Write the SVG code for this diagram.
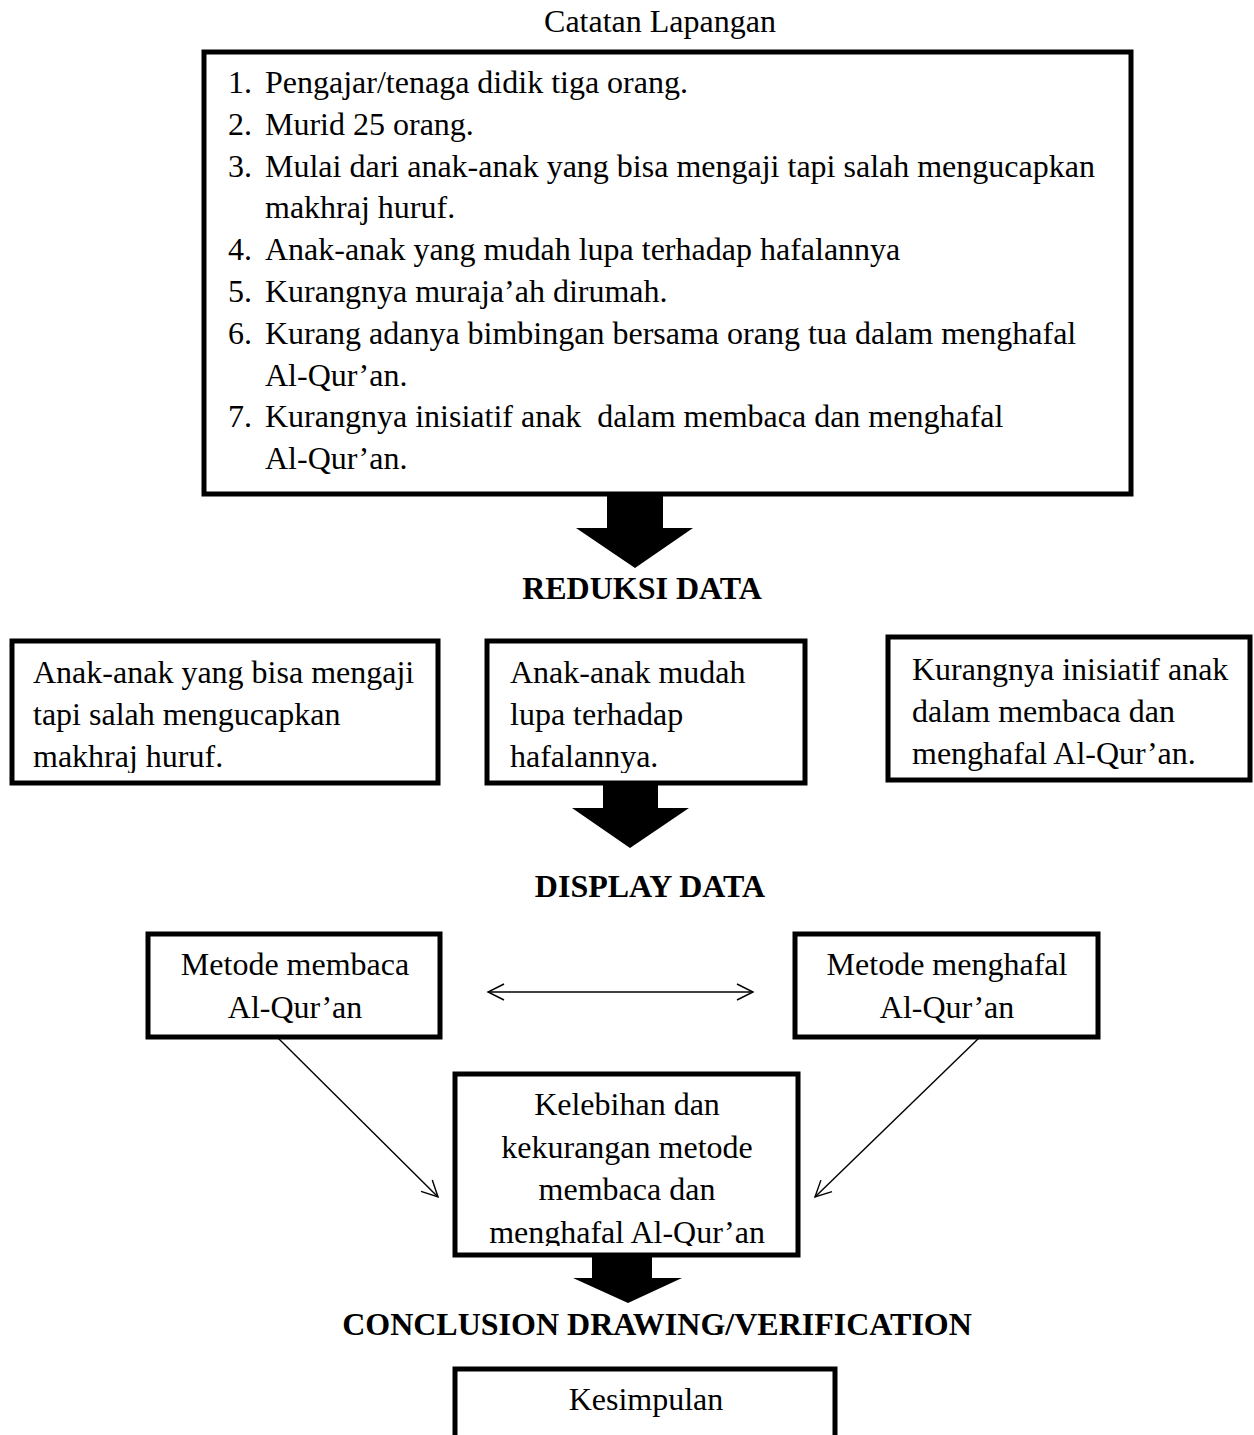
<svg xmlns="http://www.w3.org/2000/svg" width="1254" height="1435" viewBox="0 0 1254 1435">
<style>
text{font-family:"Liberation Serif","Times New Roman",serif;font-size:32px;fill:#000}
.b{font-weight:bold}
.c{text-anchor:middle}
.box{fill:#fff;stroke:#000;stroke-width:5}
.thin{fill:none;stroke:#000;stroke-width:1.4}
.big{fill:#000}
</style>
<defs>
<marker id="open" viewBox="0 0 20 20" refX="18" refY="10" markerWidth="20" markerHeight="20" markerUnits="userSpaceOnUse" orient="auto-start-reverse">
<path d="M2,2 L18,10 L2,18" fill="none" stroke="#000" stroke-width="1.4"/>
</marker>
<clipPath id="cA"><rect x="14" y="643" width="422" height="130"/></clipPath>
<clipPath id="cB"><rect x="489" y="643" width="314" height="130"/></clipPath>
<clipPath id="cC"><rect x="890" y="639" width="358" height="134"/></clipPath>
<clipPath id="cF"><rect x="457" y="1076" width="339" height="170"/></clipPath>
</defs>

<text x="660" y="32" class="c">Catatan Lapangan</text>

<g id="node-catatan">
<rect class="box" x="204" y="52" width="927" height="442"/>
<text x="228" y="93">1.</text><text x="265" y="93">Pengajar/tenaga didik tiga orang.</text>
<text x="228" y="135">2.</text><text x="265" y="135">Murid 25 orang.</text>
<text x="228" y="177">3.</text><text x="265" y="177">Mulai dari anak-anak yang bisa mengaji tapi salah mengucapkan</text>
<text x="265" y="218">makhraj huruf.</text>
<text x="228" y="260">4.</text><text x="265" y="260">Anak-anak yang mudah lupa terhadap hafalannya</text>
<text x="228" y="302">5.</text><text x="265" y="302">Kurangnya muraja’ah dirumah.</text>
<text x="228" y="344">6.</text><text x="265" y="344">Kurang adanya bimbingan bersama orang tua dalam menghafal</text>
<text x="265" y="386">Al-Qur’an.</text>
<text x="228" y="427">7.</text><text x="265" y="427" xml:space="preserve">Kurangnya inisiatif anak  dalam membaca dan menghafal</text>
<text x="265" y="469">Al-Qur’an.</text>
</g>

<g id="arrow-1"><polygon class="big" points="607,494 663,494 663,528 693,528 635,568 576,528 607,528"/></g>
<text x="642" y="599" class="c b">REDUKSI DATA</text>

<g id="node-a">
<rect class="box" x="12" y="641" width="426" height="142"/>
<g clip-path="url(#cA)">
<text x="33" y="683">Anak-anak yang bisa mengaji</text>
<text x="33" y="725">tapi salah mengucapkan</text>
<text x="33" y="767">makhraj huruf.</text>
</g>
</g>

<g id="node-b">
<rect class="box" x="487" y="641" width="318" height="142"/>
<g clip-path="url(#cB)">
<text x="510" y="683">Anak-anak mudah</text>
<text x="510" y="725">lupa terhadap</text>
<text x="510" y="767">hafalannya.</text>
</g>
</g>

<g id="node-c">
<rect class="box" x="888" y="637" width="362" height="143"/>
<g clip-path="url(#cC)">
<text x="912" y="680">Kurangnya inisiatif anak</text>
<text x="912" y="722">dalam membaca dan</text>
<text x="912" y="764">menghafal Al-Qur’an.</text>
</g>
</g>

<g id="arrow-2"><polygon class="big" points="603,783 658,783 658,808 689,808 630,848 572,808 603,808"/></g>
<text x="650" y="897" class="c b">DISPLAY DATA</text>

<g id="node-d">
<rect class="box" x="148" y="934" width="292" height="103"/>
<text x="295" y="975" class="c">Metode membaca</text>
<text x="295" y="1018" class="c">Al-Qur’an</text>
</g>

<g id="node-e">
<rect class="box" x="795" y="934" width="303" height="103"/>
<text x="947" y="975" class="c">Metode menghafal</text>
<text x="947" y="1018" class="c">Al-Qur’an</text>
</g>

<g id="node-f">
<rect class="box" x="455" y="1074" width="343" height="181"/>
<g clip-path="url(#cF)">
<text x="627" y="1115" class="c">Kelebihan dan</text>
<text x="627" y="1158" class="c">kekurangan metode</text>
<text x="627" y="1200" class="c">membaca dan</text>
<text x="627" y="1243" class="c">menghafal Al-Qur’an</text>
</g>
</g>

<g id="connectors">
<line class="thin" x1="488" y1="992" x2="753" y2="992" marker-start="url(#open)" marker-end="url(#open)"/>
<line class="thin" x1="277" y1="1037" x2="438" y2="1197" marker-end="url(#open)"/>
<line class="thin" x1="980" y1="1037" x2="815" y2="1197" marker-end="url(#open)"/>
</g>

<g id="arrow-3"><polygon class="big" points="592,1255 652,1255 652,1278 682,1278 628,1303 573,1278 592,1278"/></g>
<text x="657" y="1335" class="c b">CONCLUSION DRAWING/VERIFICATION</text>

<g id="node-kesimpulan">
<rect class="box" x="455" y="1369" width="380" height="100"/>
<text x="646" y="1410" class="c">Kesimpulan</text>
</g>
</svg>
